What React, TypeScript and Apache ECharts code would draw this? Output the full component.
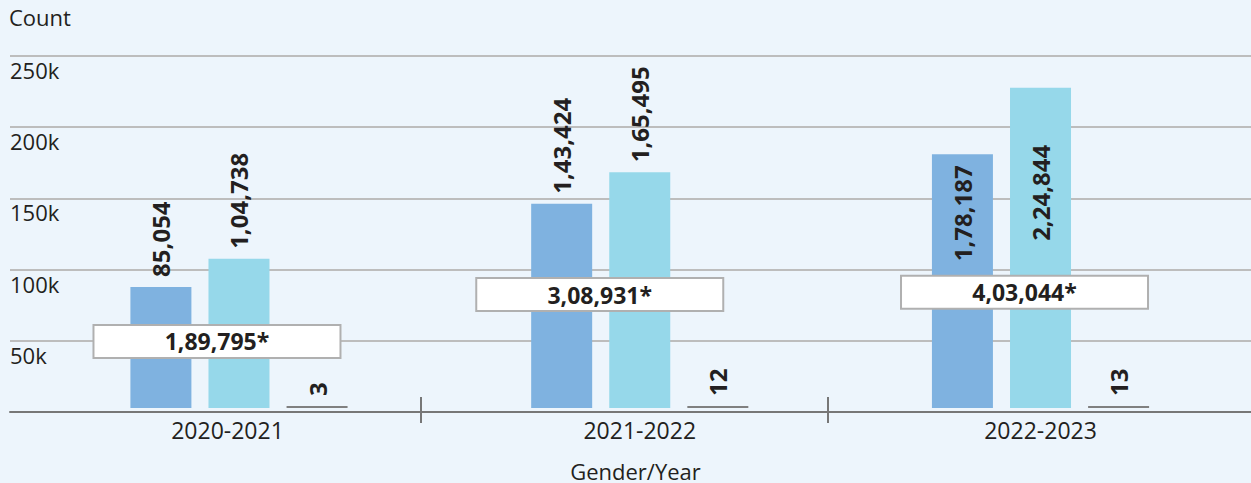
import React, { useEffect, useRef } from 'react';
import * as echarts from 'echarts';

// ---- data ----
const categories = ['2020-2021', '2021-2022', '2022-2023'];
const maleCounts = [85054, 143424, 178187];
const femaleCounts = [104738, 165495, 224844];
const transgenderCounts = [3, 12, 13];
const totalCounts = [189795, 308931, 403044];
// vertical anchor (in count units) of each total annotation box
const totalBoxLevels = [46700, 79700, 81200];
const yTickLabels: Record<number, string> = { 50000: '50k', 100000: '100k', 150000: '150k', 200000: '200k', 250000: '250k' };
// separators between the three year groups, in category-slot units
const groupSeparators = [1, 2];

const FONT = "'Open Sans', 'Noto Sans', sans-serif";
const TEXT = '#231f20';

function fmtIN(n: number): string {
  const s = String(Math.round(n));
  if (s.length <= 3) return s;
  const last3 = s.slice(-3);
  let rest = s.slice(0, -3);
  const parts: string[] = [];
  while (rest.length > 2) {
    parts.unshift(rest.slice(-2));
    rest = rest.slice(0, -2);
  }
  if (rest) parts.unshift(rest);
  return parts.join(',') + ',' + last3;
}

export default function App() {
  const ref = useRef<HTMLDivElement>(null);
  useEffect(() => {
    if (!ref.current) return;
    const chart = echarts.init(ref.current, undefined, { renderer: 'svg' });

    const barLabel = {
      show: true,
      position: 'top',
      rotate: 90,
      align: 'left',
      verticalAlign: 'middle',
      distance: 10,
      fontSize: 24,
      fontWeight: 'bold',
      fontFamily: FONT,
      color: TEXT,
      formatter: (p: any) => fmtIN(p.value),
    };
    const insideTop = (d: number) => ({ position: 'insideTop', align: 'right', distance: d });

    const boxOffsets = [-22, -40, -16];

    const option: any = {
      animation: false,
      backgroundColor: '#edf5fc',
      title: {
        text: 'Count',
        left: 9,
        top: 6,
        padding: 0,
        textStyle: { fontSize: 22, fontWeight: 'normal', fontFamily: FONT, color: TEXT },
      },
      grid: [
        { left: 10, right: 0, top: 56, bottom: 71, outerBoundsMode: 'none', containLabel: false },
        { left: 38.6, right: 10.1, top: 52, bottom: 75, outerBoundsMode: 'none', containLabel: false },
        { left: 14, right: 16, top: 56, bottom: 60, outerBoundsMode: 'none', containLabel: false },
      ],
      xAxis: [
        {
          gridIndex: 0,
          type: 'category',
          data: categories,
          axisLine: { show: true, lineStyle: { color: '#777', width: 2 } },
          axisTick: { show: false },
          axisLabel: { show: false },
          name: 'Gender/Year',
          nameLocation: 'middle',
          nameGap: 48,
          nameTextStyle: { fontSize: 22, lineHeight: 22, fontFamily: FONT, color: TEXT, padding: [0, 0, 0, 10] },
        },
        {
          gridIndex: 1,
          type: 'category',
          data: categories,
          axisLine: { show: false },
          axisTick: { show: false },
          axisLabel: {
            show: true,
            margin: 10,
            fontSize: 23,
            fontFamily: FONT,
            color: TEXT,
            formatter: (v: string, i: number) => (i === 0 ? '{shift|' + v + '}' : v),
            rich: { shift: { fontSize: 23, fontFamily: FONT, color: TEXT, padding: [0, 23, 0, 0] } },
          },
        },
        {
          gridIndex: 2,
          type: 'value',
          min: 0,
          max: 3,
          splitLine: { show: false },
          axisLine: { show: false },
          axisLabel: { show: false },
          axisTick: {
            show: true,
            inside: true,
            length: 26,
            customValues: groupSeparators,
            lineStyle: { color: '#777', width: 2 },
          },
        },
      ],
      yAxis: [
        {
          gridIndex: 0,
          type: 'value',
          min: 0,
          max: 250000,
          interval: 50000,
          axisLine: { show: false },
          axisTick: { show: false },
          splitLine: { show: true, lineStyle: { color: '#bdbdbd', width: 2 } },
          axisLabel: {
            inside: true,
            showMinLabel: false,
            margin: 0,
            align: 'left',
            verticalAlign: 'top',
            padding: [3, 0, 0, 0],
            fontSize: 22,
            fontFamily: FONT,
            color: TEXT,
            formatter: (v: number) => yTickLabels[v] ?? '',
          },
        },
        { gridIndex: 1, type: 'value', min: 0, max: 250000, show: false },
        { gridIndex: 2, type: 'value', min: 0, max: 1, show: false },
      ],
      series: [
        {
          name: 'Male',
          type: 'bar',
          xAxisIndex: 1,
          yAxisIndex: 1,
          barWidth: 61,
          barGap: '28%',
          itemStyle: { color: '#7fb2e0' },
          label: barLabel,
          data: maleCounts.map((v, i) => (i === 2 ? { value: v, label: insideTop(11) } : v)),
        },
        {
          name: 'Female',
          type: 'bar',
          xAxisIndex: 1,
          yAxisIndex: 1,
          barWidth: 61,
          barGap: '28%',
          itemStyle: { color: '#96d8ea' },
          label: barLabel,
          data: femaleCounts.map((v, i) => (i === 2 ? { value: v, label: insideTop(57) } : v)),
        },
        {
          name: 'Transgender',
          type: 'bar',
          xAxisIndex: 1,
          yAxisIndex: 1,
          barWidth: 61,
          barGap: '28%',
          barMinHeight: 2,
          itemStyle: { color: '#808080' },
          label: barLabel,
          data: transgenderCounts,
        },
        {
          name: 'Total',
          type: 'scatter',
          xAxisIndex: 1,
          yAxisIndex: 1,
          z: 10,
          symbolSize: 2,
          itemStyle: { color: 'rgba(0,0,0,0)', opacity: 1 },
          emphasis: { disabled: true },
          label: {
            show: true,
            position: 'inside',
            width: 245,
            height: 31,
            lineHeight: 31,
            align: 'center',
            verticalAlign: 'middle',
            backgroundColor: '#ffffff',
            borderColor: '#b0b0b0',
            borderWidth: 2,
            fontSize: 23,
            fontWeight: 'bold',
            fontFamily: FONT,
            color: TEXT,
            opacity: 1,
          },
          data: totalBoxLevels.map((lvl, i) => ({
            value: [i, lvl],
            label: { offset: [boxOffsets[i], 0], formatter: fmtIN(totalCounts[i]) + '*' },
          })),
        },
      ],
    };
    chart.setOption(option);
    return () => chart.dispose();
  }, []);
  return (
    <div
      ref={ref}
      style={{ position: 'fixed', left: 0, top: 0, width: 1251, height: 483, background: '#edf5fc' }}
    />
  );
}
